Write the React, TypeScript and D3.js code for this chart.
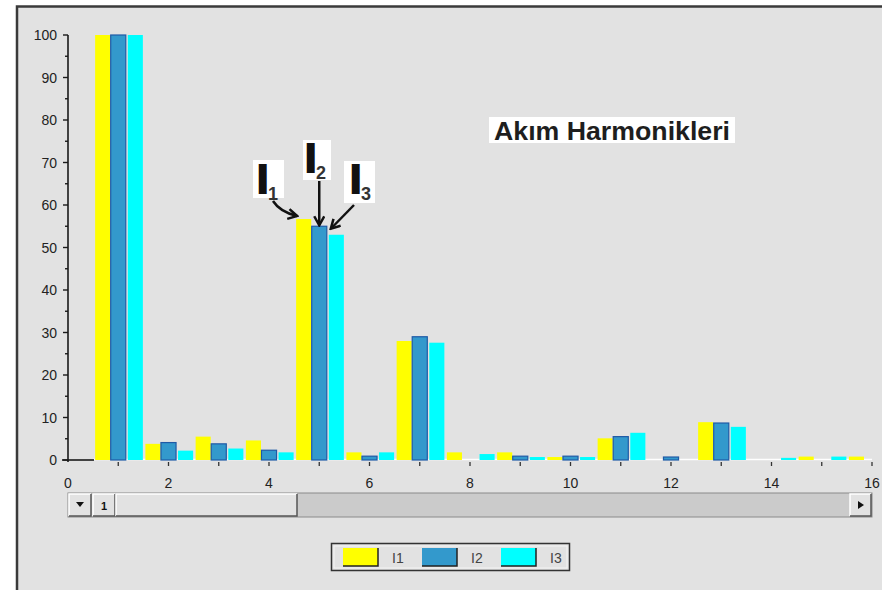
import React from 'react';
import * as d3 from 'd3';

// harmonic order and the three phase currents (% of fundamental)
const harmonics = [1, 2, 3, 4, 5, 6, 7, 8, 9, 10, 11, 12, 13, 14, 15, 16];
const I1 = [100, 3.8, 5.5, 4.6, 56.7, 1.8, 28, 1.8, 1.8, 0.7, 5.1, 0, 8.9, 0, 0.8, 0.8];
const I2 = [100, 4.1, 3.8, 2.3, 55, 0.9, 29, 0, 0.9, 0.9, 5.5, 0.7, 8.7, 0, 0, 0];
const I3 = [100, 2.2, 2.7, 1.8, 53, 1.8, 27.6, 1.4, 0.7, 0.7, 6.4, 0, 7.8, 0.5, 0.8, 0];

const seriesNames = ['I1', 'I2', 'I3'];
const yTicks = [0, 10, 20, 30, 40, 50, 60, 70, 80, 90, 100];
const xTickLabels = [0, 2, 4, 6, 8, 10, 12, 14, 16];
const title = 'Akım Harmonikleri';

const W = 882;
const H = 590;
const BG = '#e2e2e2';

const colors = ['#ffff00', '#3399cc', '#00ffff'];
const strokes = ['none', '#1f5aa6', 'none'];
const offsets = [-0.31, 0, 0.34];
const barW = 0.3;

export default function App() {
  const x = d3.scaleLinear().domain([0, 16]).range([68, 872]);
  const y = d3.scaleLinear().domain([0, 100]).range([460, 35]);
  const data = [I1, I2, I3];

  const bw = x(barW) - x(0);

  // raised windows-style button
  const button = (x0: number, y0: number, w: number, h: number, key: string) => (
    <g key={key}>
      <rect x={x0} y={y0} width={w} height={h} fill={BG} />
      <path d={`M${x0},${y0 + h} L${x0},${y0} L${x0 + w},${y0}`} stroke="#ffffff" strokeWidth={1.5} fill="none" />
      <path d={`M${x0},${y0 + h} L${x0 + w},${y0 + h} L${x0 + w},${y0}`} stroke="#555" strokeWidth={1.5} fill="none" />
    </g>
  );

  // annotation arrow tips, anchored on harmonic 5 bars
  const h5 = 4;
  const tips = [
    [x(5 + offsets[0] - barW / 2) + 1, y(I1[h5]) - 3],
    [x(5 + offsets[1]), y(I2[h5]) - 1],
    [x(5 + offsets[2] - barW / 2) + 2, y(I3[h5]) - 6],
  ];

  return (
    <div style={{ position: 'absolute', left: 0, top: 0 }}>
      <svg width={W} height={H} style={{ display: 'block' }} fontFamily="'Liberation Sans', Arial, sans-serif">
        <defs>
          <marker id="chev" markerWidth="12" markerHeight="12" refX="10" refY="6" orient="auto" markerUnits="userSpaceOnUse">
            <path d="M1,1 L10,6 L1,11" fill="none" stroke="#111" strokeWidth="2.5" />
          </marker>
          <clipPath id="plotClip">
            <rect x={68} y={0} width={872 - 68} height={470} />
          </clipPath>
        </defs>

        <rect x={0} y={0} width={W} height={H} fill="#ffffff" />
        <rect x={17} y={7} width={W - 17} height={H - 7} fill={BG} />
        <path d={`M17,${H} L17,6.5 L${W},6.5`} stroke="#3a3a3a" strokeWidth={2.5} fill="none" />

        {/* baseline */}
        <line x1={x(0.5)} x2={872} y1={y(0) - 0.5} y2={y(0) - 0.5} stroke="#ffffff" strokeWidth={1.5} />

        {/* bars */}
        <g clipPath="url(#plotClip)">
          {data.map((vals, s) =>
            harmonics.map((h, i) =>
              vals[i] > 0 ? (
                <rect
                  key={`${s}-${h}`}
                  x={x(h + offsets[s]) - bw / 2}
                  y={y(vals[i])}
                  width={bw}
                  height={y(0) - y(vals[i])}
                  fill={colors[s]}
                  stroke={strokes[s]}
                  strokeWidth={1.2}
                />
              ) : null
            )
          )}
        </g>

        {/* y axis */}
        <line x1={68} x2={68} y1={y(100)} y2={y(0) + 2} stroke="#1a1a1a" strokeWidth={1.6} />
        <line x1={62} x2={94} y1={y(0)} y2={y(0)} stroke="#1a1a1a" strokeWidth={1.6} />
        {d3.range(0, 101, 5).map((v) => (
          <line key={`yt${v}`} x1={v % 10 === 0 ? 63 : 65} x2={68} y1={y(v)} y2={y(v)} stroke="#1a1a1a" strokeWidth={1.4} />
        ))}
        {yTicks.map((v) => (
          <text key={`yl${v}`} x={57} y={y(v) + 5} textAnchor="end" fontSize={14} fill="#222">
            {v}
          </text>
        ))}

        {/* x axis ticks */}
        {d3.range(1, 17).map((v) => (
          <line key={`xt${v}`} x1={x(v)} x2={x(v)} y1={y(0) + 2} y2={y(0) + 6} stroke="#333" strokeWidth={1.3} />
        ))}
        {xTickLabels.map((v) => (
          <text key={`xl${v}`} x={x(v)} y={488} textAnchor="middle" fontSize={14} fill="#222">
            {v}
          </text>
        ))}

        {/* scrollbar */}
        <rect x={68} y={493} width={804} height={24} fill="#cbcbcb" stroke="#8a8a8a" strokeWidth={1} />
        {button(69, 494, 22, 22, 'b1')}
        {button(93, 494, 22, 22, 'b2')}
        {button(116, 494, 181, 22, 'thumb')}
        {button(850, 494, 21, 22, 'b3')}
        <path d="M76,502 L84,502 L80,507 Z" fill="#111" />
        <text x={104} y={510} textAnchor="middle" fontSize={11} fontWeight="bold" fill="#111">1</text>
        <path d="M858,501 L864,505 L858,509 Z" fill="#111" />

        {/* title */}
        <rect x={489} y={117} width={246} height={26} fill="#ffffff" />
        <text x={494} y={140} fontSize={26} fontWeight="bold" fill="#1e1e1e" textLength={236} lengthAdjust="spacingAndGlyphs">
          {title}
        </text>

        {/* annotations */}
        <rect x={253} y={160} width={31} height={38} fill="#ffffff" />
        <rect x={303} y={140} width={28} height={40} fill="#ffffff" />
        <rect x={344} y={161} width={31} height={42} fill="#ffffff" />
        {[
          [257, 193, 'I', '1'],
          [305, 172, 'I', '2'],
          [350, 193, 'I', '3'],
        ].map(([lx, ly, a, b], i) => (
          <g key={`lab${i}`}>
            <text x={lx as number} y={ly as number} fontSize={41} fontWeight="bold" fill="#111" stroke="#111" strokeWidth={2}>
              {a}
            </text>
            <text x={(lx as number) + 11} y={(ly as number) + 7} fontSize={18} fontWeight="bold" fill="#333">
              {b}
            </text>
          </g>
        ))}
        <path d={`M273,201 Q280,212 ${tips[0][0]},${tips[0][1]}`} fill="none" stroke="#111" strokeWidth={2.5} markerEnd="url(#chev)" />
        <line x1={tips[1][0]} y1={181} x2={tips[1][0]} y2={tips[1][1]} stroke="#111" strokeWidth={2.5} markerEnd="url(#chev)" />
        <line x1={354} y1={205} x2={tips[2][0]} y2={tips[2][1]} stroke="#111" strokeWidth={2.5} markerEnd="url(#chev)" />

        {/* legend */}
        <rect x={331.5} y={543.5} width={238} height={27} fill={BG} stroke="#333" strokeWidth={1.5} />
        <rect x={334} y={546} width={233} height={22} fill="none" stroke="#f4f4f4" strokeWidth={1} />
        {seriesNames.map((n, i) => {
          const lx = 343 + i * 79;
          return (
            <g key={n}>
              <rect x={lx} y={548} width={35} height={18} fill={colors[i]} />
              <path d={`M${lx},${566} L${lx + 35},${566} L${lx + 35},548`} stroke="#222" strokeWidth={1.5} fill="none" />
              <text x={lx + 49} y={563} fontSize={14} fill="#444">
                {n}
              </text>
            </g>
          );
        })}
      </svg>
    </div>
  );
}
